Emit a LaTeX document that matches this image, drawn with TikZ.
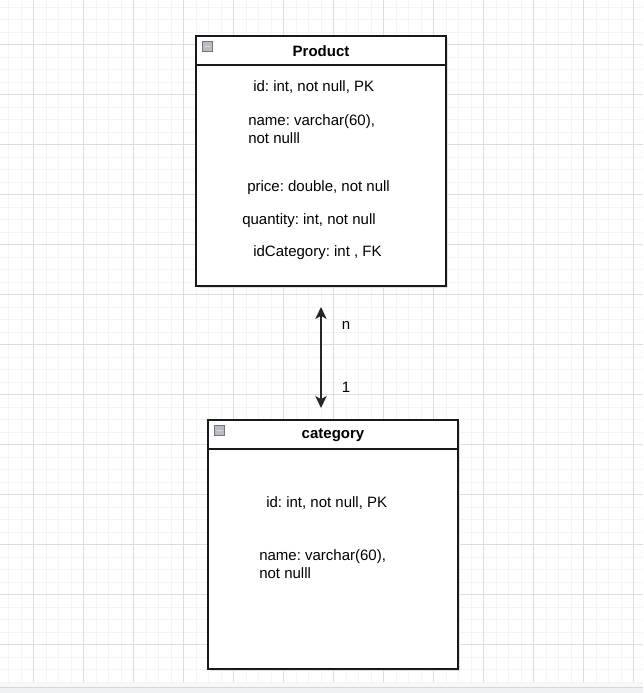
\documentclass[tikz,border=0pt]{standalone}
\usepackage{fontspec}
\setmainfont{Liberation Sans}
\usetikzlibrary{arrows.meta}
\frenchspacing
\definecolor{gridminor}{HTML}{F4F4F4}
\definecolor{gridmajor}{HTML}{DDDDDD}
\definecolor{iconfill}{HTML}{B8BCC4}
\definecolor{iconedge}{HTML}{70757D}
\definecolor{barfill}{HTML}{F0F1F3}
\tikzset{
  every node/.style={font=\fontsize{11.25}{13.5}\selectfont, inner sep=0pt},
  tablebox/.style={draw=black!90, line width=1.1pt, fill=white, inner sep=0pt},
  fieldtxt/.style={anchor=west, align=left},
  titletxt/.style={font=\fontsize{11.25}{13.5}\selectfont\bfseries},
  relarrow/.style={draw=black!85, line width=1pt, {Stealth[length=9pt,width=8.5pt,inset=2.4pt]}-{Stealth[length=9pt,width=8.5pt,inset=2.4pt]}},
  minusicon/.style={draw=iconedge, fill=iconfill, line width=0.5pt}
}
\begin{document}
\begin{tikzpicture}[x=0.75pt, y=-0.75pt]
\useasboundingbox (0,0) rectangle (643,693);
\fill[white] (0,0) rectangle (643,682);
% grid
\foreach \i in {0,...,51} {
  \draw[gridminor, line width=0.4pt] ({8.33+12.5*\i},0) -- ({8.33+12.5*\i},682);
}
\foreach \i in {0,...,54} {
  \draw[gridminor, line width=0.4pt] (0,{6.8+12.5*\i}) -- (643,{6.8+12.5*\i});
}
\foreach \i in {0,...,12} {
  \draw[gridmajor, line width=0.6pt] ({33.33+50*\i},0) -- ({33.33+50*\i},682);
}
\foreach \i in {0,...,12} {
  \draw[gridmajor, line width=0.6pt] (0,{44.3+50*\i}) -- (643,{44.3+50*\i});
}
% bottom bar
\fill[black!3] (0,682) rectangle (643,687);
\fill[barfill] (0,687) rectangle (643,693);
\draw[black!15, line width=0.5pt] (0,687) -- (643,687);

% Product table
\fill[black!12] (198,38) rectangle (448,288);
\node[tablebox, minimum width=187.5pt, minimum height=187.5pt] (product) at (321,161) {};
\draw[black!90, line width=1.1pt] (196,65) -- (446,65);
\draw[minusicon] (202,41.5) rectangle (212.5,51.5);
\draw[white!85!black, line width=0.9pt] (204.5,46.5) -- (210,46.5);
\node[titletxt] (ptitle) at (321,51) {Product};
\node[fieldtxt] (pid) at (253,87.5) {id: int, not null, PK};
\node[fieldtxt] (pname) at (248,129.5) {name: varchar(60),\\not nulll};
\node[fieldtxt] (pprice) at (247,187.5) {price: double, not null};
\node[fieldtxt] (pqty) at (242,220.5) {quantity: int, not null};
\node[fieldtxt] (pcat) at (253,252.5) {idCategory: int , FK};

% category table
\fill[black!12] (210,422) rectangle (460,671);
\node[tablebox, minimum width=187.5pt, minimum height=186.75pt] (category) at (333,544.5) {};
\draw[black!90, line width=1.1pt] (208,449) -- (458,449);
\draw[minusicon] (214,425.5) rectangle (224.5,435.5);
\draw[white!85!black, line width=0.9pt] (216.5,430.5) -- (222,430.5);
\node[titletxt] (ctitle) at (333,435.5) {category};
\node[fieldtxt] (cid) at (266,503.5) {id: int, not null, PK};
\node[fieldtxt] (cname) at (259,564.5) {name: varchar(60),\\not nulll};

% relation
\coordinate (atop) at (321,307);
\coordinate (abot) at (321,408);
\draw[relarrow] (atop) -- (abot);
\node (nlabel) at (346,325.5) {n};
\node (onelabel) at (346,387.5) {1};
\end{tikzpicture}
\end{document}
